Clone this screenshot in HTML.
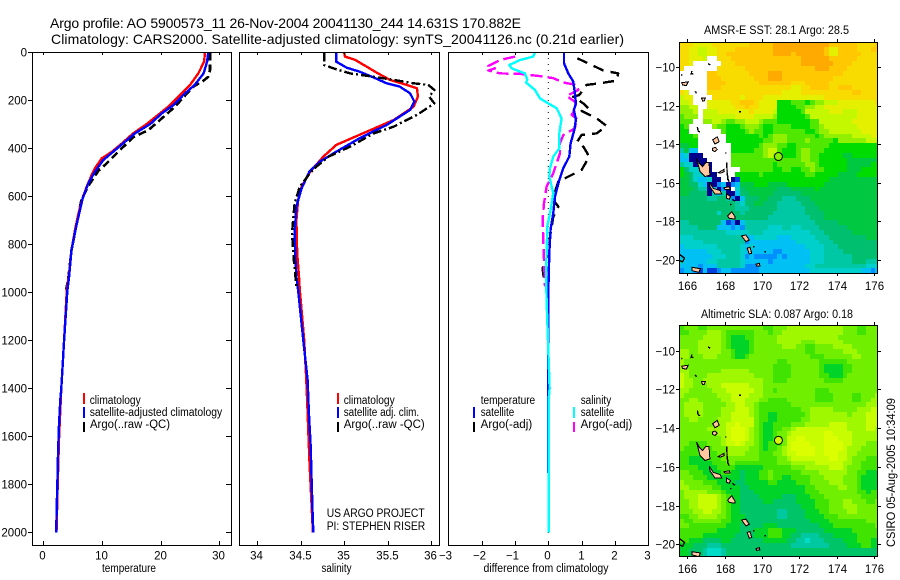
<!DOCTYPE html>
<html>
<head>
<meta charset="utf-8">
<title>Argo profile 5900573_11</title>
<style>
html,body{margin:0;padding:0;background:#fff;}
svg{display:block;position:absolute;left:0;top:0;}
text{font-family:"Liberation Sans",sans-serif;fill:#000;}
.t{font-size:14px;}
.k{font-size:11.5px;}
.m{font-size:11.5px;}
</style>
</head>
<body>
<svg id="chart" xmlns="http://www.w3.org/2000/svg" width="900" height="580" viewBox="0 0 900 580">
<defs>
<clipPath id="clip-sst"><rect x="679.5" y="42" width="198" height="231"/></clipPath>
<clipPath id="clip-sla"><rect x="679.5" y="325" width="198" height="231"/></clipPath>
</defs>
<rect x="0" y="0" width="900" height="580" fill="#fff"/>

<text class="t" x="50" y="28" textLength="471" lengthAdjust="spacing">Argo profile: AO 5900573_11 26-Nov-2004 20041130_244 14.631S 170.882E</text>
<text class="t" x="51" y="44" textLength="573" lengthAdjust="spacing">Climatology: CARS2000. Satellite-adjusted climatology: synTS_20041126.nc (0.21d earlier)</text>

<g id="temp-panel"></g>
<g id="sal-panel"></g>
<g id="diff-panel"></g>
<g id="sst-map"></g>
<g id="sla-map"></g>

<text class="m" x="102" y="572" textLength="54" lengthAdjust="spacingAndGlyphs">temperature</text>
<text class="m" x="321.5" y="572" textLength="30" lengthAdjust="spacingAndGlyphs">salinity</text>
<text class="m" x="483.5" y="572" textLength="125" lengthAdjust="spacingAndGlyphs">difference from climatology</text>

<g>
<rect x="83" y="393" width="2" height="11" fill="#f00"/>
<rect x="83" y="407" width="2" height="11" fill="#00f"/>
<rect x="83" y="422" width="2" height="10" fill="#000"/>
<text class="m" x="89.7" y="404" textLength="51" lengthAdjust="spacingAndGlyphs">climatology</text>
<text class="m" x="89.7" y="416" textLength="132.5" lengthAdjust="spacingAndGlyphs">satellite-adjusted climatology</text>
<text class="m" x="90" y="428" textLength="80" lengthAdjust="spacingAndGlyphs">Argo(..raw -QC)</text>
</g>
<g>
<rect x="337" y="393" width="2" height="11" fill="#f00"/>
<rect x="337" y="407" width="2" height="11" fill="#00f"/>
<rect x="337" y="422" width="2" height="10" fill="#000"/>
<text class="m" x="343.7" y="404" textLength="51" lengthAdjust="spacingAndGlyphs">climatology</text>
<text class="m" x="343.7" y="416" textLength="75.5" lengthAdjust="spacingAndGlyphs">satellite adj. clim.</text>
<text class="m" x="343.7" y="428" textLength="81" lengthAdjust="spacingAndGlyphs">Argo(..raw -QC)</text>
</g>
<text class="m" x="326.7" y="517" textLength="98" lengthAdjust="spacingAndGlyphs">US ARGO PROJECT</text>
<text class="m" x="326.7" y="530" textLength="98.5" lengthAdjust="spacingAndGlyphs">PI: STEPHEN RISER</text>
<g>
<rect x="473" y="407" width="2" height="11" fill="#00f"/>
<rect x="473" y="422" width="2" height="10" fill="#000"/>
<text class="m" x="480.7" y="404" textLength="54.5" lengthAdjust="spacingAndGlyphs">temperature</text>
<text class="m" x="480.7" y="416" textLength="33.5" lengthAdjust="spacingAndGlyphs">satellite</text>
<text class="m" x="480.7" y="428" textLength="51.5" lengthAdjust="spacingAndGlyphs">Argo(-adj)</text>
</g>
<g>
<rect x="573" y="407" width="2" height="11" fill="#0ff"/>
<rect x="573" y="422" width="2" height="10" fill="#f0f"/>
<text class="m" x="580.7" y="404" textLength="30.5" lengthAdjust="spacingAndGlyphs">salinity</text>
<text class="m" x="580.7" y="416" textLength="33.5" lengthAdjust="spacingAndGlyphs">satellite</text>
<text class="m" x="580.7" y="428" textLength="51.5" lengthAdjust="spacingAndGlyphs">Argo(-adj)</text>
</g>

<text class="m" x="704" y="34" textLength="145" lengthAdjust="spacingAndGlyphs">AMSR-E SST: 28.1 Argo: 28.5</text>
<text class="m" x="701" y="318" textLength="152" lengthAdjust="spacingAndGlyphs">Altimetric SLA: 0.087 Argo: 0.18</text>
<text class="k" transform="translate(895,547) rotate(-90)" textLength="149" lengthAdjust="spacingAndGlyphs">CSIRO 05-Aug-2005 10:34:09</text>
</svg>

<script>
// ---------- data ----------
const depthTicks = [0,200,400,600,800,1000,1200,1400,1600,1800,2000];
const tempTicks = [0,10,20,30];
const salTicks = [34,34.5,35,35.5,36];
const diffTicks = [-3,-2,-1,0,1,2,3];
const lonTicks = [166,168,170,172,174,176];
const latTicks = [-10,-12,-14,-16,-18,-20];

const tempClimDepth = [0,39,88,136,178,220,254,299,338,379,414,442,483,511,560,601,671,740,824,921,990,1200,1400,1600,1800,2000];
const tempClimValue = [27.55,27.4,26.4,25,23.3,21.6,19.9,17.6,15.3,13.4,11.7,9.95,8.8,8.25,7.4,6.8,6,5.4,4.8,4.4,4,3.55,3.07,2.7,2.45,2.25];
const tempSatDepth = [0,39,88,136,178,220,254,299,338,379,414,449,497,546,610,726,824,935,990,1200,1400,1449,1553,1678,1810,1880,2000];
const tempSatValue = [28.1,27.9,27.3,25.8,23.85,22.15,20.2,18.2,15.6,13.6,11.9,10.2,8.8,7.67,6.7,5.6,4.8,4.4,4.1,3.55,3.07,2.9,2.67,2.5,2.39,2.3,2.2];
const tempArgoDepth = [0,74,102,118,143,227,275,324,354,421,463,493,546,612,712,824,935,990];
const tempArgoValue = [28.4,28.4,28.1,27.3,25.55,22.4,20.2,17.9,15.3,12.5,10.8,9.4,7.96,6.5,5.7,4.8,4.3,3.9];

const salClimDepth = [0,18,32,60,88,115,136,150,185,227,282,331,386,435,497,560,615,699,838,935,990,1200,1365,1500,1600,1700,2000];
const salClimValue = [35,35.01,35.13,35.26,35.39,35.53,35.72,35.84,35.85,35.8,35.57,35.26,34.91,34.76,34.61,34.51,34.47,34.45,34.46,34.48,34.49,34.54,34.565,34.58,34.59,34.6,34.64];
const salSatDepth = [0,39,64,81,108,129,143,171,206,240,303,358,414,456,497,567,643,754,865,935,990,1200,1365,1504,1643,1782,1921,2000];
const salSatValue = [34.91,34.91,35.03,35.18,35.36,35.49,35.64,35.76,35.81,35.76,35.49,35.18,34.91,34.72,34.6,34.51,34.45,34.43,34.44,34.45,34.47,34.53,34.58,34.595,34.615,34.626,34.637,34.645];
const salArgoDepth = [0,53,67,88,102,115,129,136,157,185,213,261,310,338,393,435,477,503,560,629,754,865,976];
const salArgoValue = [34.77,34.77,34.88,35.07,35.34,35.57,35.8,35.97,36.04,35.98,36.04,35.84,35.57,35.34,35.07,34.82,34.68,34.61,34.49,34.43,34.4,34.42,34.45];

const diffTempSatDepth = [0,46,88,122,171,213,241,282,324,379,434,483,532,601,669,738,835,1000,1400,1752];
const diffTempSatValue = [0.47,0.47,0.6,0.75,0.8,0.83,0.77,0.83,0.78,0.67,0.63,0.45,0.33,0.2,0.15,0.07,0.03,0,0,0];
const diffTempArgoDepth = [25,49,76,88,118,129,136,178,185,213,233,244,275,307,338,344,372,393,435,490,518,539,567,615,643,685,768,838,900,949,983];
const diffTempArgoValue = [0.87,1.25,1.65,2.1,2.05,1.55,1.15,0.93,0.75,1.05,1.2,1,1.45,1.75,1.45,1,0.87,1.05,1.23,1,0.6,0.3,0.23,0.15,0.3,0.15,0.05,0,-0.17,-0.13,-0.05];
const diffSalSatDepth = [0,18,32,53,67,88,115,126,157,192,213,233,275,338,400,435,483,518,587,671,726,838,921,1032,1400,1450,2000];
const diffSalSatValue = [-0.4,-0.45,-0.85,-1.17,-1.1,-0.7,-0.63,-0.67,-0.4,-0.25,0,0.25,0.4,0.33,0.33,0.15,0.05,0.03,0.15,0.05,-0.03,-0.05,-0.07,-0.05,0.04,0.01,0.01];
const diffSalArgoDepth = [18,32,57,67,76,88,90,99,108,126,136,157,182,206,226,261,275,317,344,379,421,504,560,629,699,782,865,976];
const diffSalArgoValue = [-1,-1.45,-1.8,-1.6,-1.8,-1.45,-0.85,-0.25,0.15,0.45,0.85,0.9,0.55,0.8,0.85,0.7,0.85,0.8,0.45,0.35,0.35,0.15,-0.05,-0.13,-0.17,-0.15,-0.13,-0.1];

const N = null; // masked (no satellite data)
const sstRows = [
[13,13,13,12,12,12,12,13,13,13,13,13,13,13,13,14,14,14,14,14,15,15,15,15,15,15,15,15,15,15,15,15,14,14,14,14,14,14,13,13,13,13,14],
[13,13,12,12,11,11,12,12,13,13,13,13,14,14,14,14,14,14,14,14,15,15,15,15,15,15,15,15,15,15,15,14,12,12,14,14,14,14,13,13,13,14,14],
[13,13,12,12,11,11,12,12,13,13,14,14,14,14,14,14,14,14,14,14,15,15,15,15,14,15,15,15,15,15,15,14,12,12,14,14,14,14,14,13,13,13,13],
[13,13,12,12,12,11,N,N,13,13,13,14,14,14,14,14,14,14,14,14,14,14,14,14,14,14,15,15,15,15,15,15,14,14,14,14,14,14,13,13,13,13,13],
[13,13,12,N,N,N,N,N,N,13,13,13,14,14,14,14,14,14,14,14,14,14,14,14,14,14,15,15,15,15,15,15,15,14,14,14,14,13,13,13,13,13,13],
[13,N,N,N,N,N,N,N,13,13,13,13,13,13,14,14,14,14,14,14,14,14,14,14,14,14,14,14,14,15,15,15,14,14,14,14,13,13,13,13,13,13,13],
[N,N,N,N,N,N,14,14,13,13,13,13,13,13,13,14,14,14,14,15,15,15,14,14,14,14,14,14,14,14,14,14,14,14,14,13,13,13,13,13,13,13,13],
[N,N,N,N,N,N,14,14,14,13,13,13,13,13,13,13,14,14,14,15,15,15,14,14,14,14,14,14,14,14,14,14,14,13,13,13,13,13,13,13,13,13,13],
[N,N,N,N,N,N,14,14,14,14,13,13,13,13,13,13,13,14,14,14,14,14,14,14,13,13,13,14,14,14,14,14,13,13,13,13,13,13,13,13,13,13,13],
[N,N,N,N,N,N,14,14,14,13,13,13,13,13,13,13,13,13,13,13,13,13,13,13,12,12,13,13,14,14,14,14,13,13,14,14,14,13,13,13,13,13,13],
[13,12,N,N,N,N,13,13,13,13,13,13,13,13,13,13,13,13,13,13,13,13,12,12,12,12,13,13,13,13,13,13,13,13,13,13,13,14,14,13,13,13,13],
[11,12,12,N,N,N,N,13,13,13,13,13,13,12,13,13,13,13,12,12,12,12,12,12,12,12,12,12,12,12,12,13,13,13,13,13,13,13,13,13,13,13,13],
[11,11,12,N,N,N,12,12,12,12,12,13,13,14,14,14,13,12,12,12,12,8,8,8,9,9,9,8,9,10,10,11,11,11,12,12,12,12,12,12,12,12,13],
[10,10,11,11,N,N,12,12,12,12,12,12,13,13,14,13,13,12,12,12,12,8,8,8,8,9,9,10,10,11,11,12,12,12,12,12,12,12,12,12,12,12,12],
[10,10,10,11,N,11,11,11,12,12,12,12,12,12,12,13,12,12,12,12,11,8,8,8,8,8,9,11,11,11,11,11,12,12,12,11,11,11,12,12,12,12,12],
[9,10,10,10,N,11,11,11,11,11,11,11,12,12,12,12,11,11,11,11,10,8,8,8,8,8,8,9,11,11,11,11,11,11,11,11,11,11,12,12,12,12,12],
[9,9,9,N,N,10,10,11,11,10,9,9,10,10,11,11,11,10,9,9,9,8,8,8,8,8,8,8,9,9,11,11,11,11,11,11,11,12,12,12,12,12,12],
[8,9,N,N,N,N,N,10,9,9,8,8,8,9,10,10,10,9,8,8,9,9,9,9,8,8,8,8,9,9,10,11,11,11,11,11,11,11,12,12,12,12,12],
[8,8,N,N,N,N,N,N,N,9,8,8,8,8,9,10,9,9,8,8,9,9,9,9,9,9,9,8,8,9,10,10,11,11,11,11,11,11,11,12,12,12,12],
[8,8,8,9,N,N,N,N,N,N,8,8,8,8,8,8,8,9,8,9,10,10,10,9,9,9,9,9,9,8,9,10,10,10,10,10,10,11,11,11,11,12,12],
[8,8,8,8,N,N,N,N,N,N,8,8,8,8,8,8,8,8,9,9,10,10,10,9,9,9,9,10,9,9,9,9,9,8,10,10,10,10,10,10,11,11,11],
[7,7,8,8,N,N,N,N,N,N,N,8,8,8,8,8,8,9,10,10,10,9,9,8,8,9,9,9,9,9,9,9,8,8,8,8,8,8,8,8,8,8,8],
[5,7,3,3,N,N,N,N,N,N,N,8,8,8,8,8,9,9,10,11,11,9,8,8,8,9,10,10,9,9,9,8,8,8,8,8,8,8,8,8,8,8,8],
[3,4,0,0,0,N,N,N,N,N,N,9,9,9,9,9,9,9,10,11,10,9,8,8,8,9,10,10,9,9,8,8,8,8,8,7,7,8,8,8,8,8,8],
[3,3,0,0,0,0,N,N,N,N,N,9,9,9,9,9,9,9,9,9,9,9,9,9,9,9,10,10,9,9,8,8,8,8,8,8,7,7,7,7,7,7,7],
[5,4,4,0,0,0,0,N,N,N,N,9,9,9,9,9,9,9,9,9,8,9,9,9,9,9,9,10,10,9,8,8,8,8,8,8,7,7,7,7,7,8,8],
[8,6,4,4,4,0,0,N,N,N,N,N,N,9,9,9,9,9,9,9,8,8,9,9,8,8,9,9,10,9,9,8,8,8,8,8,7,7,7,8,8,8,8],
[8,7,6,4,4,4,0,0,N,N,N,N,8,8,8,8,8,9,8,8,8,8,8,8,8,8,8,9,9,8,8,8,8,8,7,7,7,7,8,8,8,8,8],
[7,7,6,4,3,3,4,0,0,N,N,0,1,8,8,8,8,8,8,8,8,8,8,8,8,8,8,8,8,8,8,8,7,7,7,7,7,7,7,7,7,7,7],
[7,7,6,6,4,3,0,0,2,3,0,2,3,7,7,7,8,8,8,7,7,7,7,8,8,8,8,8,8,8,8,7,7,7,7,7,7,7,7,7,7,7,7],
[7,7,7,6,5,5,0,3,0,2,0,N,4,6,7,7,7,7,7,7,7,6,6,6,7,7,7,7,7,8,7,7,7,7,7,7,7,7,7,7,7,7,7],
[7,7,6,6,6,6,0,5,3,5,0,0,3,6,6,7,7,7,7,7,6,6,6,6,6,6,7,7,7,7,7,7,7,7,7,7,7,7,7,7,7,7,7],
[6,6,6,6,6,6,5,5,6,6,5,2,0,3,6,6,6,7,7,6,6,6,5,5,5,6,6,6,7,7,7,7,7,7,7,7,7,7,7,7,7,7,7],
[6,6,6,6,6,6,6,6,6,6,6,6,5,4,6,6,7,7,6,6,6,5,5,5,5,5,6,6,6,7,7,7,7,7,7,7,7,7,7,7,7,7,7],
[6,6,6,6,6,6,6,6,6,6,6,6,5,5,5,6,6,6,6,6,6,5,5,5,5,5,5,6,6,6,7,7,7,7,7,7,7,7,7,7,7,7,7],
[6,6,6,6,6,6,6,6,4,6,6,6,6,5,6,6,6,6,6,6,5,5,5,5,5,5,5,6,6,6,6,7,7,7,7,7,7,7,7,7,7,7,7],
[6,6,6,6,6,6,6,6,6,6,6,6,6,6,6,6,6,6,6,5,5,5,5,5,5,5,5,5,6,6,6,7,7,7,7,7,7,7,7,7,7,7,7],
[5,5,6,6,6,6,6,6,6,3,1,2,0,3,5,5,5,5,5,5,5,5,5,5,5,5,5,5,5,6,6,6,6,6,7,7,7,7,7,7,7,7,7],
[5,5,5,5,6,6,6,6,3,3,3,2,3,2,5,5,5,5,5,4,4,4,5,5,4,4,5,5,5,5,6,6,6,6,6,6,7,7,7,7,7,7,7],
[5,5,5,5,5,5,5,5,5,5,4,4,4,4,4,5,5,5,4,4,4,4,4,4,4,4,4,4,5,5,5,6,6,6,6,6,6,7,7,7,7,7,7],
[4,4,4,5,5,5,5,5,5,5,5,5,5,5,3,3,4,4,4,4,4,3,3,3,4,4,4,4,4,5,5,5,6,6,6,6,6,6,6,6,7,7,7],
[4,4,4,4,4,5,5,5,5,5,5,5,5,5,2,3,3,3,3,3,3,3,3,3,3,4,4,4,4,4,5,5,5,6,6,6,6,6,6,6,6,6,6],
[3,4,4,4,4,4,4,4,5,5,5,5,5,4,3,4,3,3,3,3,3,3,3,3,3,3,3,4,4,4,4,5,5,5,6,6,6,6,6,6,6,6,6],
[3,3,3,3,3,3,4,4,4,5,5,5,5,4,3,3,3,3,3,3,2,2,3,3,3,3,3,3,4,4,4,5,5,5,5,6,6,6,6,6,6,6,6],
[3,3,3,3,3,3,3,4,4,4,5,5,5,4,2,3,2,2,2,2,2,3,2,3,3,3,3,3,4,4,4,5,5,5,5,5,5,6,6,6,6,6,6],
[4,3,3,3,3,3,4,4,5,5,5,5,5,4,3,3,3,3,3,2,3,3,3,3,3,3,3,3,4,4,4,5,5,5,5,5,5,6,6,6,5,5,5],
[3,3,3,3,2,3,3,3,5,5,5,5,5,4,2,2,2,3,3,3,3,3,3,3,3,3,3,4,4,5,5,5,5,5,5,5,5,5,5,5,4,4,4],
[2,3,3,2,1,3,1,1,2,3,3,2,2,2,2,2,2,3,3,3,3,3,3,3,3,3,3,3,4,4,4,4,4,4,4,4,4,4,4,3,3,2,3]
];
const slaRows = [
[8,9,9,9,8,8,9,9,9,9,9,9,9,9,9,9,9,9,8,8,9,9,9,10,10,10,10,10,10,10,10,10,10,10,10,9,9,9,8,8,9,9,9],
[8,8,9,9,9,9,10,10,10,9,8,8,8,8,8,8,9,9,9,8,9,9,10,10,10,10,10,10,10,10,10,10,10,10,10,9,9,9,8,8,9,9,9],
[9,9,9,9,9,10,10,10,10,9,8,7,7,7,8,8,9,9,9,9,9,10,10,10,10,10,10,10,10,10,10,10,10,10,9,9,9,9,9,9,9,9,9],
[9,9,9,9,10,10,10,10,10,9,8,7,7,7,7,8,9,9,9,9,9,10,10,10,10,10,9,9,9,10,10,10,10,10,10,9,9,9,9,9,9,9,9],
[9,9,9,9,10,10,10,10,10,9,8,7,7,7,7,8,9,9,9,9,9,9,10,10,10,9,9,8,8,9,9,9,9,10,10,10,10,9,9,9,9,9,9],
[10,10,9,9,10,10,10,10,10,9,9,8,7,7,7,8,9,9,9,9,9,9,9,9,9,9,9,8,8,9,9,9,9,9,9,10,10,10,9,9,9,9,9],
[10,10,9,9,9,10,10,10,9,9,9,8,7,7,8,9,9,9,9,9,9,9,9,9,9,9,9,9,8,8,8,9,9,9,9,9,9,10,10,9,9,9,9],
[10,9,9,9,9,9,9,9,9,9,9,9,9,9,9,9,9,9,9,9,9,8,8,9,9,9,9,9,9,9,8,8,8,8,8,8,9,9,9,9,9,9,9],
[10,9,9,9,9,9,9,9,9,9,9,9,9,9,9,9,9,9,9,9,8,8,8,8,9,9,9,9,9,9,8,7,7,7,7,8,8,9,9,9,9,9,9],
[10,10,9,9,9,9,9,9,9,10,10,10,10,10,10,9,9,9,9,9,8,8,8,8,9,9,9,9,9,9,8,7,7,7,7,8,8,9,9,9,9,9,9],
[11,10,9,9,9,9,10,10,10,10,10,10,10,10,10,10,9,9,9,9,8,8,8,8,9,9,9,9,9,9,8,8,7,7,7,8,9,9,9,9,9,9,9],
[11,10,10,9,9,10,10,10,10,10,10,10,10,10,10,10,10,10,9,9,8,8,8,9,9,9,9,9,9,9,9,8,8,8,8,9,9,9,9,9,9,9,9],
[11,10,10,9,9,9,10,10,10,11,11,11,11,11,11,10,10,10,9,9,9,9,9,9,9,9,9,9,9,9,9,9,9,9,9,9,9,9,9,9,9,9,9],
[10,10,9,9,9,9,9,10,10,10,11,11,11,11,11,11,10,10,9,9,8,9,9,9,9,9,9,9,9,8,8,8,9,9,9,9,9,9,9,9,9,9,9],
[10,9,9,9,9,9,9,9,10,10,10,11,11,11,11,10,10,10,9,9,9,9,9,9,9,9,9,9,9,8,8,8,8,9,9,9,9,8,8,9,9,9,10],
[9,9,10,10,9,9,9,9,9,10,10,11,11,11,10,10,10,9,9,8,8,8,8,9,9,9,9,9,9,8,8,8,8,9,9,9,9,8,8,9,9,10,10],
[9,10,10,10,10,9,9,9,9,9,10,10,11,11,10,10,9,8,8,8,8,8,8,8,9,9,9,9,9,9,9,9,9,9,9,9,9,9,9,9,10,10,10],
[9,10,10,10,10,9,9,9,9,10,10,10,11,11,11,10,9,8,8,8,8,8,8,8,8,8,9,9,10,10,10,10,10,9,9,9,9,9,10,10,10,11,11],
[9,10,10,10,10,9,9,9,9,10,10,11,11,11,11,10,9,8,8,7,7,8,8,8,8,8,8,9,10,10,10,10,10,10,10,10,9,10,10,10,11,11,11],
[9,9,10,10,9,9,9,9,10,10,10,11,11,11,11,11,9,8,8,7,7,8,8,8,8,8,9,9,10,10,10,10,10,10,10,10,10,10,10,10,11,11,11],
[9,9,9,9,9,9,9,9,10,10,11,11,12,11,11,11,9,8,7,7,8,8,8,8,9,9,9,10,10,10,10,10,11,11,11,11,10,10,10,10,11,11,11],
[9,9,9,9,9,9,10,10,10,10,11,12,12,12,11,10,9,8,7,7,8,8,9,9,10,11,11,11,11,11,11,11,11,11,11,11,10,10,10,10,11,11,10],
[9,9,9,9,9,9,9,9,10,10,11,12,12,12,11,10,9,8,7,7,8,9,9,10,11,11,11,11,11,11,11,12,12,11,11,11,11,10,10,10,10,10,10],
[9,9,9,9,9,9,9,9,9,10,11,12,12,12,11,10,9,8,7,7,8,8,9,11,11,12,12,11,11,11,11,12,12,12,11,11,11,10,10,10,10,10,10],
[9,9,8,8,8,8,9,9,9,10,11,11,12,11,10,10,9,8,7,8,8,8,9,11,12,12,12,12,11,11,11,12,12,12,12,11,11,10,10,10,9,9,9],
[9,8,8,8,8,8,8,9,9,9,10,10,10,10,10,9,9,8,7,8,8,9,10,11,12,12,12,12,12,11,11,12,12,12,12,11,10,10,10,9,9,9,9],
[8,8,8,8,8,8,8,8,9,9,10,10,10,10,9,9,9,8,8,8,9,9,10,11,11,12,12,12,12,11,11,12,12,12,11,11,10,10,9,9,9,9,9],
[8,8,7,7,7,7,8,8,8,9,9,9,9,9,9,9,9,8,8,8,8,9,9,10,11,11,11,11,11,11,11,11,12,12,11,11,10,9,9,9,8,8,8],
[8,8,7,7,7,7,7,8,8,8,9,9,8,8,8,8,8,8,8,8,8,9,9,9,10,10,10,10,10,11,11,11,11,11,11,10,10,9,9,8,8,8,8],
[8,8,8,8,7,7,7,7,8,8,8,8,7,7,7,7,7,7,8,8,8,8,8,8,9,9,9,10,10,10,10,10,11,11,11,10,9,9,9,8,8,8,8],
[9,9,8,8,8,7,7,7,7,8,8,7,7,6,7,7,7,8,8,9,8,8,8,8,8,8,9,9,9,9,10,10,10,10,10,10,9,9,8,8,7,7,7],
[9,9,9,8,8,8,7,7,7,7,7,7,7,6,7,7,7,8,8,9,8,8,7,7,8,8,8,8,9,9,9,10,10,10,10,9,9,9,8,7,7,7,7],
[10,9,9,9,9,8,8,8,7,7,7,7,6,6,7,7,7,7,7,8,8,7,7,7,7,8,8,8,9,9,9,9,10,10,10,9,9,9,8,7,7,7,7],
[10,10,9,9,9,9,9,8,8,7,7,7,7,6,6,7,7,7,7,7,7,7,7,7,7,7,7,8,8,9,9,9,9,9,10,10,9,9,8,7,7,7,7],
[9,10,10,10,10,10,9,9,9,8,7,7,7,6,6,6,7,7,7,7,7,7,7,7,7,7,7,8,8,8,9,9,9,9,9,9,9,9,8,8,7,8,8],
[9,10,10,10,11,11,11,11,10,9,8,7,7,6,6,6,6,7,7,7,7,7,6,6,6,7,7,7,8,8,8,9,9,9,9,9,9,9,9,8,8,8,8],
[9,9,10,10,11,11,11,11,10,9,8,7,7,6,6,6,6,6,7,7,6,6,6,6,6,7,7,7,7,8,8,8,9,9,9,10,10,9,9,9,8,8,9],
[9,9,10,10,11,11,11,11,10,9,8,7,7,6,6,6,6,6,6,6,6,6,6,6,6,6,7,7,7,8,8,8,9,9,9,10,10,10,9,9,9,9,9],
[9,9,9,10,10,11,11,10,10,9,8,7,7,6,6,6,6,6,6,6,6,5,5,6,6,6,6,7,7,7,8,8,9,9,9,9,10,10,9,9,9,9,9],
[8,8,9,9,10,10,10,10,9,9,8,7,7,7,6,6,6,6,6,6,6,5,5,6,6,6,6,7,7,7,7,8,8,8,9,9,9,9,9,9,9,9,9],
[9,8,8,9,9,9,9,9,9,8,8,7,7,7,6,6,6,6,6,6,6,6,6,6,6,6,6,6,7,7,7,7,8,8,8,8,8,8,8,8,9,9,9],
[9,9,8,8,8,8,8,8,8,8,7,7,7,6,6,6,6,6,7,7,7,6,6,6,6,6,6,6,6,6,7,7,7,8,8,8,8,8,8,8,8,8,9],
[8,8,8,8,8,8,8,8,7,7,7,7,7,6,6,6,7,7,7,8,8,8,7,7,7,6,6,6,6,6,6,7,7,7,7,7,7,8,8,8,8,8,8],
[8,8,8,8,8,7,7,7,7,7,7,7,6,6,6,6,7,7,7,8,8,8,7,7,6,6,5,5,5,5,6,6,6,7,7,7,7,7,8,8,8,8,8],
[8,8,7,7,7,6,6,6,6,7,7,6,6,6,6,6,6,6,7,7,7,7,7,6,6,5,5,4,5,5,5,6,6,6,6,7,7,7,8,8,8,7,7],
[7,7,7,6,6,6,5,5,5,6,6,6,6,6,6,6,6,6,6,6,6,6,6,6,5,5,5,5,5,5,5,5,6,6,6,6,7,7,7,8,8,7,7],
[7,7,6,6,6,5,4,4,4,5,6,6,6,6,6,6,6,6,6,6,6,6,6,6,6,6,6,6,6,6,6,6,6,6,6,6,6,6,6,6,6,6,6],
[7,7,6,6,6,5,4,4,4,5,6,6,6,6,6,6,6,6,6,6,6,6,6,6,6,6,6,6,6,6,6,6,6,6,6,6,6,6,6,6,6,6,6]
];
const sstColors = ['#00008c','#0040e0','#0090ff','#00c0f4','#00d0cc','#00c8a4','#00c070','#00c840','#00dc00','#50e800','#90f000','#c4f800','#e4f000','#f8dc00','#ffc800','#ffaa00'];
const slaColors = ['#00008c','#0040e0','#0090ff','#00c0f4','#00dcc8','#00c8a0','#00c468','#00d428','#40e400','#70f000','#a0f800','#c8fc00','#dcff00','#f8dc00','#ffc800','#ffaa00'];

// island outlines in [longitude, latitude]
const islands = [
 [[166.5,-14.72],[166.64,-14.98],[166.82,-15.16],[166.98,-14.95],[167.16,-14.95],[167.21,-15.59],[166.95,-15.67],[166.68,-15.42],[166.59,-15.07]],
 [[167.18,-15.97],[167.39,-16.28],[167.75,-16.4],[167.84,-16.57],[167.48,-16.57],[167.21,-16.2]],
 [[168.13,-15.4],[168.2,-15.85],[168.25,-15.95],[168.15,-15.8]],
 [[167.66,-15.47],[167.96,-15.3],[167.98,-15.42],[167.75,-15.5]],
 [[167.96,-16.25],[168.25,-16.2],[168.29,-16.33],[168.02,-16.33]],
 [[168.1,-16.57],[168.32,-16.71],[168.25,-16.85],[168.1,-16.8]],
 [[168.16,-17.72],[168.38,-17.49],[168.55,-17.75],[168.55,-17.87],[168.25,-17.84]],
 [[168.91,-18.75],[169.14,-18.7],[169.32,-18.96],[169.14,-19.05]],
 [[169.21,-19.39],[169.36,-19.34],[169.45,-19.65],[169.32,-19.69]],
 [[169.68,-20.22],[169.86,-20.17],[169.89,-20.3],[169.71,-20.31]],
 [[167.36,-13.77],[167.6,-13.6],[167.71,-13.86],[167.48,-13.98]],
 [[167.36,-14.2],[167.5,-14.15],[167.6,-14.27],[167.48,-14.38],[167.36,-14.32]],
 [[165.7,-10.8],[166.05,-10.75],[165.95,-10.95],[165.75,-10.92]],
 [[166.76,-11.6],[166.97,-11.6],[166.9,-11.75],[166.82,-11.75]],
 [[166.25,-20.38],[166.7,-20.45],[166.62,-20.64],[166.25,-20.55]]
];
const reefLines = [
 [[168.11,-14.95],[168.13,-15.4]],
 [[166.54,-13.1],[166.58,-13.3],[166.68,-13.36]],
 [[166.42,-11.25],[166.5,-11.35]],
 [[166.23,-10.2],[166.22,-10.35],[166.32,-10.33]],
 [[165.68,-10.42],[165.74,-10.38]],
 [[167.12,-9.8],[167.22,-9.88]],
 [[168.78,-12.3],[168.88,-12.3]],
 [[168.05,-14.42],[168.05,-14.48]],
 [[168.42,-16.85],[168.55,-16.95]],
 [[168.3,-17.1],[168.35,-17.15]],
 [[169.52,-19.31],[169.6,-19.31]],
 [[170.18,-19.52],[170.18,-19.6]],
 [[165.57,-19.7],[165.85,-19.9],[165.75,-20.1],[165.57,-20.02]]
];
const floatLon = 170.882;
const floatLat = -14.631;

// ---------- axes ----------
function tempX(v){ return 43.3 + 5.87 * v; }
function salX(v){ return 257.3 + 86.8 * (v - 34); }
function diffX(v){ return 548.3 + 33.3 * v; }
function depthY(d){ return 52.3 + 0.24 * d; }
function lonX(v){ return 687.3 + 18.67 * (v - 166); }
function sstY(v){ return 67.3 + 19.27 * (-10 - v); }
function slaY(v){ return 350.7 + 19.36 * (-10 - v); }

const SVGNS = 'http://www.w3.org/2000/svg';
function make(tag, parent, name, attrs){
  const el = document.createElementNS(SVGNS, tag);
  
  
  for (const a in attrs) el.setAttribute(a, attrs[a]);
  parent.appendChild(el);
  return el;
}
function line(parent, name, x1, y1, x2, y2){
  return make('line', parent, name, {x1:x1, y1:y1, x2:x2, y2:y2, stroke:'#000', 'stroke-width':1, 'shape-rendering':'crispEdges'});
}
function label(parent, name, x, y, txt, anchor){
  const el = make('text', parent, name, {x:x, y:y, 'text-anchor':anchor, 'class':'k'});
  el.textContent = txt;
  return el;
}
function fmt(v){ return v < 0 ? '\u2212' + Math.abs(v) : String(v); }
function profile(parent, name, depths, values, xf, color, width, dash){
  const pts = depths.map(function(d, i){ return xf(values[i]).toFixed(1) + ',' + depthY(d).toFixed(1); }).join(' ');
  const attrs = {points:pts, fill:'none', stroke:color, 'stroke-width':width, 'stroke-linejoin':'round', 'shape-rendering':'crispEdges'};
  if (dash) attrs['stroke-dasharray'] = dash;
  return make('polyline', parent, name, attrs);
}
function frame(parent, name, x, y, w, h){
  return make('rect', parent, name, {x:x, y:y, width:w, height:h, fill:'none', stroke:'#000', 'stroke-width':1, 'shape-rendering':'crispEdges'});
}

// ---------- profile panels ----------
const PT = 52, PB = 545;
const tempG = document.getElementById('temp-panel');
const salG = document.getElementById('sal-panel');
const diffG = document.getElementById('diff-panel');

profile(tempG, 'temp-argo-line', tempArgoDepth, tempArgoValue, tempX, '#000', 2.6, '8 4');
profile(tempG, 'temp-climatology-line', tempClimDepth, tempClimValue, tempX, '#f00', 2.4);
profile(tempG, 'temp-satellite-line', tempSatDepth, tempSatValue, tempX, '#00f', 2.4);
frame(tempG, 'temperature-plot-frame', 32.5, PT + 0.5, 199, PB - PT);
depthTicks.forEach(function(d){
  const y = Math.round(depthY(d)) + 0.5;
  line(tempG, 'depth-tick-left', 28, y, 32, y);
  line(tempG, 'depth-tick-right', 226, y, 231, y);
  label(tempG, 'depth-tick-label', 27, y + 4, String(d), 'end');
});
tempTicks.forEach(function(v){
  const x = Math.round(tempX(v)) + 0.5;
  line(tempG, 'temp-tick-bottom', x, PB - 4, x, PB);
  line(tempG, 'temp-tick-top', x, PT, x, PT + 3);
  label(tempG, 'temp-tick-label', x - 1, 559.5, fmt(v), 'middle');
});

profile(salG, 'sal-climatology-line', salClimDepth, salClimValue, salX, '#f00', 2.4);
profile(salG, 'sal-satellite-line', salSatDepth, salSatValue, salX, '#00f', 2.4);
profile(salG, 'sal-argo-line', salArgoDepth, salArgoValue, salX, '#000', 2.4, '9 3 2 3');
frame(salG, 'salinity-plot-frame', 239.5, PT + 0.5, 200, PB - PT);
salTicks.forEach(function(v){
  const x = Math.round(salX(v)) + 0.5;
  line(salG, 'sal-tick-bottom', x, PB - 4, x, PB);
  line(salG, 'sal-tick-top', x, PT, x, PT + 3);
  label(salG, 'sal-tick-label', x - 1, 559.5, fmt(v), 'middle');
});

make('line', diffG, 'zero-difference-dotted-line', {x1:diffX(0), y1:PT, x2:diffX(0), y2:537, stroke:'#000', 'stroke-width':1, 'stroke-dasharray':'1 5'});
profile(diffG, 'diff-temp-argo-line', diffTempArgoDepth, diffTempArgoValue, diffX, '#000', 2.4, '11 7');
profile(diffG, 'diff-sal-argo-line', diffSalArgoDepth, diffSalArgoValue, diffX, '#f0f', 2.4, '12 5');
profile(diffG, 'diff-temp-satellite-line', diffTempSatDepth, diffTempSatValue, diffX, '#00f', 2.4);
profile(diffG, 'diff-sal-satellite-line', diffSalSatDepth, diffSalSatValue, diffX, '#0ff', 2.4);
frame(diffG, 'difference-plot-frame', 448.5, PT + 0.5, 200, PB - PT);
diffTicks.forEach(function(v){
  const x = Math.round(diffX(v)) + 0.5;
  line(diffG, 'diff-tick-bottom', x, PB - 4, x, PB);
  line(diffG, 'diff-tick-top', x, PT, x, PT + 3);
  label(diffG, 'diff-tick-label', v < 0 ? x - 3 : x - 1, 559.5, fmt(v), 'middle');
});

// ---------- maps ----------
function drawMap(groupId, rows, colors, yf, clipId, top, bottom, labelY, markerFill, cellName){
  const g = document.getElementById(groupId);
  const cells = make('g', g, cellName + 's', {'clip-path':'url(#' + clipId + ')'});
  const topLat = -10 - (top - yf(-10)) / (yf(-11) - yf(-10));
  rows.forEach(function(row, r){
    row.forEach(function(val, c){
      if (val === null) return;
      const x0 = Math.round(lonX(165.57 + 0.25 * c));
      const x1 = Math.round(lonX(165.57 + 0.25 * (c + 1)));
      const y0 = Math.round(yf(topLat - 0.25 * r));
      const y1 = Math.round(yf(topLat - 0.25 * (r + 1)));
      const cell = document.createElementNS(SVGNS, 'rect');
      
      
      cell.setAttribute('x', x0);
      cell.setAttribute('y', y0);
      cell.setAttribute('width', x1 - x0);
      cell.setAttribute('height', y1 - y0);
      cell.setAttribute('fill', colors[val]);
      cell.setAttribute('shape-rendering', 'crispEdges');
      cells.appendChild(cell);
    });
  });
  const land = make('g', g, 'coastline', {'clip-path':'url(#' + clipId + ')'});
  islands.forEach(function(isl){
    make('polygon', land, 'island', {points:isl.map(function(p){ return lonX(p[0]).toFixed(1) + ',' + yf(p[1]).toFixed(1); }).join(' '), fill:'#ffc8a0', stroke:'#000', 'stroke-width':1, 'shape-rendering':'crispEdges'});
  });
  reefLines.forEach(function(ln){
    make('polyline', land, 'reef-outline', {points:ln.map(function(p){ return lonX(p[0]).toFixed(1) + ',' + yf(p[1]).toFixed(1); }).join(' '), fill:'none', stroke:'#000', 'stroke-width':1.4, 'shape-rendering':'crispEdges'});
  });
  make('circle', g, 'argo-float-marker', {cx:lonX(floatLon), cy:yf(floatLat), r:4, fill:markerFill, stroke:'#000', 'stroke-width':1});
  frame(g, 'map-frame', 679.5, top + 0.5, 198, bottom - top);
  lonTicks.forEach(function(v){
    const x = Math.round(lonX(v)) + 0.5;
    line(g, 'lon-tick-top', x, top - 3, x, top);
    line(g, 'lon-tick-bottom', x, bottom, x, bottom + 3);
    label(g, 'lon-tick-label', x, labelY, String(v), 'middle');
  });
  latTicks.forEach(function(v){
    const y = Math.round(yf(v)) + 0.5;
    line(g, 'lat-tick-left', 676, y, 679, y);
    line(g, 'lat-tick-right', 878, y, 881, y);
    label(g, 'lat-tick-label', 675, y + 4, fmt(v), 'end');
  });
}
drawMap('sst-map', sstRows, sstColors, sstY, 'clip-sst', 42, 273, 290, '#88f000', 'sst-cell');
drawMap('sla-map', slaRows, slaColors, slaY, 'clip-sla', 325, 556, 573, '#d8f800', 'sla-cell');
</script>
</body>
</html>
